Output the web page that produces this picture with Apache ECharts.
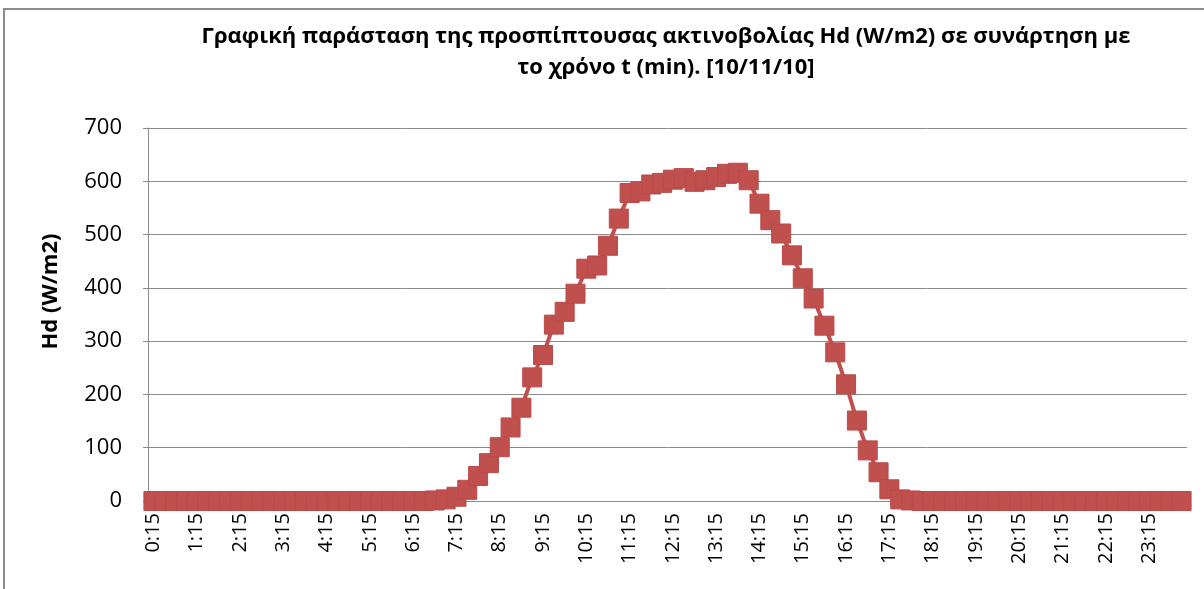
<!DOCTYPE html>
<html>
<head>
<meta charset="utf-8">
<script src="https://cdn.jsdelivr.net/npm/echarts@6/dist/echarts.min.js"></script>
<style>
  html, body { margin: 0; padding: 0; background: #fff; }
  #chart { width: 1204px; height: 589px; }
</style>
</head>
<body>
<div id="chart"></div>
<script>
// 15 minute readings, 0:15 ... 24:00
const times = [];
for (let h = 0; h < 24; h++) {
  ['15', '30', '45'].forEach(m => times.push(h + ':' + m));
  times.push((h + 1) + ':00');
}

// Hd (W/m2)
const hd = [
  0, 0, 0, 0, 0, 0, 0, 0, 0, 0, 0, 0,
  0, 0, 0, 0, 0, 0, 0, 0, 0, 0, 0, 0,
  0, 0, 1, 3, 8, 21, 47, 71, 101, 138, 175, 232,
  274, 331, 355, 389, 436, 442, 479, 530, 578, 581, 594, 597,
  603, 606, 599, 602, 608, 614, 616, 602, 558, 527, 502, 461,
  418, 380, 329, 279, 219, 151, 95, 54, 22, 3, 1, 0,
  0, 0, 0, 0, 0, 0, 0, 0, 0, 0, 0, 0,
  0, 0, 0, 0, 0, 0, 0, 0, 0, 0, 0, 0
];

const titleText = 'Γραφική παράσταση της προσπίπτουσας ακτινοβολίας Hd (W/m2) σε συνάρτηση με\nτο χρόνο t (min). [10/11/10]';
const yName = 'Hd (W/m2)';

const font = '"Open Sans", "Noto Sans", sans-serif';
const red = '#C0504D';
const gridGray = '#8A8A8A';

const chart = echarts.init(document.getElementById('chart'));
chart.setOption({
  backgroundColor: '#fff',
  animation: false,
  title: {
    text: titleText, left: 661, top: 16, textAlign: 'center',
    textStyle: { fontFamily: font, fontSize: 22, fontWeight: 'bold', color: '#000', lineHeight: 31 }
  },
  graphic: [{
    type: 'rect', silent: true, z: -1,
    shape: { x: 4, y: 9, width: 1300, height: 700 },
    style: { fill: 'none', stroke: '#8C8C8C', lineWidth: 2 }
  }],
  grid: { left: 148, right: 17, top: 128, bottom: 88 },
  xAxis: {
    type: 'category',
    data: times,
    boundaryGap: true,
    axisLine: { lineStyle: { color: gridGray, width: 1 } },
    axisTick: { show: false },
    axisLabel: {
      interval: 3, rotate: 90, margin: 12,
      fontFamily: font, fontSize: 20, color: '#000'
    },
    splitLine: { show: false }
  },
  yAxis: {
    type: 'value',
    min: 0, max: 700, interval: 100,
    name: yName,
    nameLocation: 'middle',
    nameGap: 86,
    nameTextStyle: { fontFamily: font, fontSize: 22, fontWeight: 'bold', color: '#000', padding: [0, 0, 0, 46] },
    axisLine: { show: true, lineStyle: { color: gridGray, width: 1 } },
    axisTick: { show: true, length: 5, lineStyle: { color: gridGray } },
    axisLabel: { fontFamily: font, fontSize: 22, color: '#000', margin: 26 },
    splitLine: { lineStyle: { color: gridGray, width: 1 } }
  },
  series: [{
    type: 'line',
    data: hd,
    symbol: 'rect',
    symbolSize: 19,
    showAllSymbol: true,
    lineStyle: { color: red, width: 4 },
    itemStyle: { color: red, borderColor: '#B9494A', borderWidth: 1 }
  }]
});
</script>
</body>
</html>
